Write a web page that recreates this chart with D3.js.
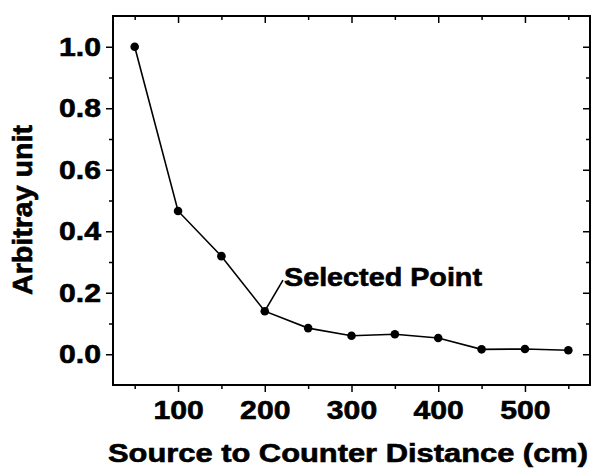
<!DOCTYPE html>
<html>
<head>
<meta charset="utf-8">
<script src="https://cdn.jsdelivr.net/npm/d3@7"></script>
<style>
  body { margin: 0; background: #fff; }
  text { font-family: "Liberation Sans", Arial, sans-serif; font-weight: bold; fill: #000; stroke: #000; stroke-width: 0.6px; }
</style>
</head>
<body>
<div id="chart"></div>
<script>
// data
const distances = [50, 100, 150, 200, 250, 300, 350, 400, 450, 500, 550];
const values = [1.0, 0.466, 0.319, 0.14, 0.085, 0.06, 0.065, 0.053, 0.016, 0.017, 0.013];
const xTickLabels = [100, 200, 300, 400, 500];
const yTickLabels = [0.0, 0.2, 0.4, 0.6, 0.8, 1.0];
const annotationText = "Selected Point";
const annotationFrom = [200, 0.14];
const annotationTo = [221, 0.241];

const width = 600, height = 471;
const plotLeft = 113, plotTop = 16, plotRight = 590, plotBottom = 385;
// the source text is drawn wider than normal Arial bold
const stretch = 1.16;

const svg = d3.select("#chart").append("svg")
  .attr("width", width).attr("height", height);

const x = d3.scaleLinear().domain([25, 575]).range([plotLeft, plotRight]);
const y = d3.scaleLinear().domain([-0.1, 1.1]).range([plotBottom, plotTop]);

const xMinor = d3.range(50, 551, 100);
const yMinor = [0.1, 0.3, 0.5, 0.7, 0.9];

// draw a tick set; size>0 goes down/left from the axis line
const ticksX = (yPos, vals, size, labels) => {
  const g = svg.append("g")
    .attr("transform", `translate(0,${yPos})`)
    .call(d3.axisBottom(x).tickValues(vals).tickSize(size).tickPadding(9)
      .tickFormat(labels ? d3.format("d") : ""));
  g.select(".domain").remove();
  return g;
};
const ticksY = (xPos, vals, size, labels) => {
  const g = svg.append("g")
    .attr("transform", `translate(${xPos},0)`)
    .call(d3.axisLeft(y).tickValues(vals).tickSize(size).tickPadding(5)
      .tickFormat(labels ? d3.format(".1f") : ""));
  g.select(".domain").remove();
  return g;
};

//bottom and left axes, ticks outward
ticksX(plotBottom, xTickLabels, 7, true);
ticksX(plotBottom, xMinor, 4, false);
ticksY(plotLeft, yTickLabels, 7, true);
ticksY(plotLeft, yMinor, 4, false);
//top and right mirror, ticks point into the plot
ticksX(plotTop, xTickLabels, 7, false);
ticksX(plotTop, xMinor, 4, false);
ticksY(plotRight, yTickLabels, 7, false);
ticksY(plotRight, yMinor, 4, false);

svg.selectAll(".tick line").attr("stroke", "#000").attr("stroke-width", 1.5);
svg.selectAll(".tick text")
  .style("font-family", "'Liberation Sans', Arial, sans-serif")
  .style("font-weight", "bold")
  .style("font-size", "26px")
  .attr("fill", "#000")
  .each(function () {
    const w = this.getComputedTextLength();
    if (w > 0) d3.select(this).attr("textLength", w * stretch).attr("lengthAdjust", "spacingAndGlyphs");
  });

//frame
svg.append("rect")
  .attr("x", plotLeft).attr("y", plotTop)
  .attr("width", plotRight - plotLeft).attr("height", plotBottom - plotTop)
  .attr("fill", "none").attr("stroke", "#000").attr("stroke-width", 2);

//line + markers
const pts = distances.map((d, i) => [d, values[i]]);
svg.append("path")
  .datum(pts)
  .attr("fill", "none").attr("stroke", "#000").attr("stroke-width", 1.6)
  .attr("d", d3.line().x(d => x(d[0])).y(d => y(d[1])));
svg.selectAll(".dot").data(pts).enter().append("circle")
  .attr("class", "dot")
  .attr("cx", d => x(d[0])).attr("cy", d => y(d[1]))
  .attr("r", 4.3).attr("fill", "#000");

//annotation
svg.append("line")
  .attr("x1", x(annotationFrom[0])).attr("y1", y(annotationFrom[1]))
  .attr("x2", x(annotationTo[0])).attr("y2", y(annotationTo[1]))
  .attr("stroke", "#000").attr("stroke-width", 1.6);
svg.append("text")
  .attr("x", x(annotationTo[0]) + 1).attr("y", y(annotationTo[1]) + 6)
  .style("font-size", "25px")
  .attr("textLength", 198).attr("lengthAdjust", "spacingAndGlyphs")
  .text(annotationText);

//axis titles
svg.append("text")
  .attr("x", 348).attr("y", 462)
  .attr("text-anchor", "middle")
  .style("font-size", "25px")
  .attr("textLength", 480).attr("lengthAdjust", "spacingAndGlyphs")
  .text("Source to Counter Distance (cm)");
svg.append("text")
  .attr("transform", "translate(32,210) scale(1.1,1) rotate(-90)")
  .attr("text-anchor", "middle")
  .style("font-size", "25px")
  .attr("textLength", 170).attr("lengthAdjust", "spacingAndGlyphs")
  .text("Arbitray unit");
</script>
</body>
</html>
